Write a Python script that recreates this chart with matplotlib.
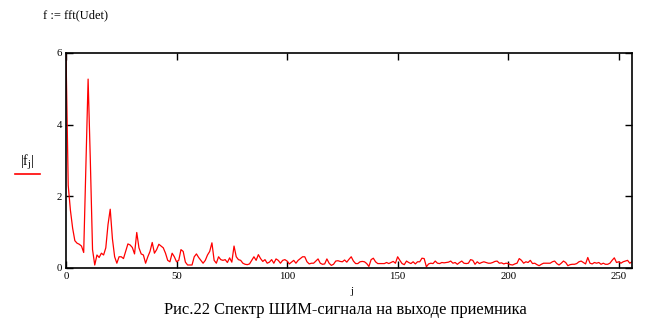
import matplotlib
matplotlib.use("Agg")
import matplotlib.pyplot as plt
import numpy as np

# |f_j| values (j = 0..256)
mag_0_63 = [6.0, 2.3, 1.6, 1.1, 0.75, 0.68, 0.65, 0.6, 0.42, 2.85, 5.27, 3.0,
            0.5, 0.07, 0.35, 0.28, 0.4, 0.35, 0.55, 1.2, 1.63, 0.8, 0.3, 0.12,
            0.3, 0.3, 0.25, 0.45, 0.66, 0.63, 0.56, 0.38, 0.98, 0.55, 0.38, 0.35,
            0.12, 0.3, 0.45, 0.7, 0.4, 0.5, 0.65, 0.6, 0.55, 0.4, 0.2, 0.16,
            0.4, 0.3, 0.16, 0.2, 0.5, 0.45, 0.15, 0.07, 0.07, 0.07, 0.3, 0.38,
            0.28, 0.2, 0.12, 0.2]
mag_64_111 = [0.35, 0.45, 0.69, 0.2, 0.12, 0.3, 0.22, 0.2, 0.22, 0.14, 0.27, 0.15,
              0.6, 0.3, 0.22, 0.2, 0.12, 0.09, 0.08, 0.1, 0.2, 0.3, 0.2, 0.36,
              0.25, 0.17, 0.22, 0.12, 0.15, 0.22, 0.12, 0.24, 0.2, 0.12, 0.2, 0.22,
              0.18, 0.1, 0.15, 0.2, 0.12, 0.2, 0.25, 0.3, 0.3, 0.16, 0.1, 0.12]
mag_112_159 = [0.12, 0.18, 0.24, 0.12, 0.09, 0.1, 0.24, 0.12, 0.06, 0.09, 0.18, 0.19,
               0.17, 0.16, 0.21, 0.15, 0.23, 0.3, 0.18, 0.11, 0.11, 0.16, 0.17, 0.16,
               0.11, 0.03, 0.22, 0.26, 0.16, 0.11, 0.11, 0.11, 0.11, 0.14, 0.11, 0.14,
               0.17, 0.12, 0.3, 0.2, 0.11, 0.08, 0.18, 0.14, 0.11, 0.16, 0.1, 0.16]
mag_160_208 = [0.16, 0.26, 0.25, 0.02, 0.1, 0.12, 0.11, 0.18, 0.12, 0.11, 0.14, 0.13,
               0.14, 0.15, 0.18, 0.12, 0.14, 0.09, 0.14, 0.18, 0.12, 0.11, 0.12, 0.22,
               0.2, 0.09, 0.16, 0.11, 0.14, 0.16, 0.14, 0.12, 0.12, 0.14, 0.17, 0.18,
               0.12, 0.13, 0.1, 0.12, 0.11, 0.08, 0.07, 0.1, 0.12, 0.25, 0.2, 0.12,
               0.16]
mag_209_256 = [0.14, 0.2, 0.11, 0.12, 0.08, 0.05, 0.09, 0.12, 0.12, 0.12, 0.12, 0.16,
               0.18, 0.11, 0.07, 0.12, 0.18, 0.14, 0.05, 0.08, 0.09, 0.09, 0.11, 0.16,
               0.18, 0.14, 0.1, 0.28, 0.12, 0.1, 0.14, 0.12, 0.14, 0.09, 0.12, 0.09,
               0.09, 0.12, 0.2, 0.27, 0.14, 0.16, 0.12, 0.16, 0.18, 0.2, 0.12, 0.16]

mag = mag_0_63 + mag_64_111 + mag_112_159 + mag_160_208 + mag_209_256
j = np.arange(len(mag))

x_ticks = [0, 50, 100, 150, 200, 250]
y_ticks = [0, 2, 4, 6]

header = "f := fft(Udet)"
caption = "Рис.22 Спектр ШИМ-сигнала на выходе приемника"

plt.rcParams['font.family'] = ['Liberation Serif', 'DejaVu Serif']
plt.rcParams['mathtext.fontset'] = 'custom'
plt.rcParams['mathtext.rm'] = 'Liberation Serif'
plt.rcParams['mathtext.it'] = 'Liberation Serif'

fig = plt.figure(figsize=(6.49, 3.25), dpi=100)
ax = fig.add_axes([66/649, 1-267.5/325, (632-66)/649, (267.5-53)/325])
ax.plot(j, mag, color='#ff0000', lw=0.9, clip_on=True)
ax.set_xlim(0, 256)
ax.set_ylim(0, 6)
ax.set_xticks(x_ticks)
ax.set_yticks(y_ticks)
ax.tick_params(direction='in', length=5, width=1, top=True, right=True,
               labelsize=7.8, pad=3, colors='black')
for s in ax.spines.values():
    s.set_linewidth(1.2)
    s.set_color('black')

fig.text(43/649, 1-15/325, header, fontsize=9, ha='left', va='center')
fig.text(352/649, 1-292/325, "j", fontsize=8, ha='center', va='center')
fig.text(27/649, 1-162/325, r'$|\mathrm{f}_{\mathrm{j}}|$', fontsize=10, ha='center', va='center')
fig.add_artist(plt.Line2D([15/649, 40/649], [1-173.5/325, 1-173.5/325], color='#ff0000', lw=1.2))
fig.text(345/649, 1-310/325, caption, fontsize=11.9, ha='center', va='center')

fig.savefig("out.png", dpi=100, facecolor='white')
